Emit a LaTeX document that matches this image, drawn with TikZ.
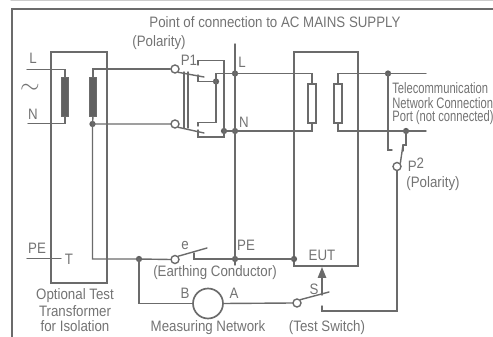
\documentclass[tikz,border=0pt]{standalone}
\usepackage{amsmath, amssymb}
\usepackage{fontspec}
\setmainfont[FakeStretch=0.88]{Liberation Sans}
\newfontfamily\portfont[FakeStretch=0.74]{Liberation Sans}
\usepackage{tikz}
\usetikzlibrary{arrows.meta}

\begin{document}
\begin{tikzpicture}
			[x=0.02cm,y=-0.02cm,line cap=round,
			%Styles
			wire/.style={draw=linecolor,line width=.8pt},
			frame line/.style={draw=linecolor,line width=.85pt},
			dot/.style={circle,inner sep=0pt,minimum size=.125cm,fill=dotcolor},
			terminal/.style={circle,draw=linecolor,line width=.8pt,fill=white,inner sep=0pt,minimum size=.16cm},
			coil/.style={rectangle,fill=dotcolor,draw=linecolor,inner sep=0pt,minimum width=.15cm,minimum height=.78cm},
			load/.style={rectangle,fill=white,draw=linecolor,line width=.8pt,inner sep=0pt,minimum width=.16cm,minimum height=.78cm},
			meter/.style={circle,draw=linecolor,line width=.95pt,fill=white,inner sep=0pt,minimum size=.6cm},
			information text/.style={text=textcolor,font=\fontsize{8.6}{8.6}\selectfont,inner sep=0pt,align=center,anchor=center},
			port text/.style={text=textcolor,font=\portfont\fontsize{8.6}{8.6}\selectfont,inner sep=0pt,align=left,anchor=west}
			]
			
			%Colors
			\colorlet{linecolor}{black!58}
			\colorlet{dotcolor}{black!62}
			\colorlet{textcolor}{black!55}
			
			\useasboundingbox (0,0) rectangle (493,337);
			
			%The frame
			\draw[black!20,line width=.8pt] (11,.5) -- (493,.5);
			\draw[frame line] (12,337) -- (12,9) -- (493,9);
			\draw[frame line] (51,283) rectangle (107,52);
			\draw[frame line] (294,266) rectangle (358,52);
			
			%The nodes
			\node[coil] (coilL) at (65,96.5) {};
			\node[coil] (coilR) at (93,96.5) {};
			\node[load] (loadA) at (312,103.5) {};
			\node[load] (loadB) at (338,103.5) {};
			\node[terminal] (pOneL) at (175,69) {};
			\node[terminal] (pOneN) at (175,124) {};
			\node[terminal] (pTwo) at (397,166.5) {};
			\node[terminal] (termE) at (175,259.5) {};
			\node[terminal] (termS) at (297,303) {};
			\node[meter] (meter) at (208,303.5) {};
			\node[dot] (dotCoil) at (92.5,124) {};
			\node[dot] (dotIn) at (216,81.5) {};
			\node[dot] (dotN) at (224,131) {};
			\node[dot] (dotBusL) at (235,73.5) {};
			\node[dot] (dotBusN) at (235,131) {};
			\node[dot] (dotPE) at (235,259) {};
			\node[dot] (dotEUT) at (294,259) {};
			\node[dot] (dotT) at (139,259) {};
			\node[dot] (dotPortL) at (388,73.5) {};
			\node[dot] (dotPortN) at (406,131) {};
			
			\coordinate (inL) at (27,69.5);
			\coordinate (inN) at (28,123.5);
			\coordinate (inPE) at (27,258.5);
			\coordinate (endPE) at (61,258.5);
			\coordinate (portL) at (426,73.5);
			\coordinate (portN) at (426,131);
			\coordinate (armE) at (207,248);
			\coordinate (armS) at (329,292);
			\coordinate (armP) at (403,145);
			\coordinate (stubS) at (322,306);
			
			%The graphic
			\draw[wire] (inL) -| (coilL.north);
			\draw[wire] (inN) -| (coilL.south);
			\draw[wire] (coilR.north) |- (pOneL.west);
			\draw[wire] (coilR.south) -- (dotCoil.center) -- (pOneN.west);
			\draw[wire] (dotCoil.center) |- (dotT.center) -- (termE.west);
			\draw[wire] (inPE) -- (endPE);
			
			%P1 contacts
			\draw[wire] (pOneL.south east) -- (204,77);
			\draw[wire] (pOneN.south east) -- (204,133);
			\draw[wire] (184,72) -- (184,128);
			\draw[wire] (188,72) -- (188,128);
			\draw[wire] (198,65) -- (198,60.5) -| (dotN.center);
			\draw[wire] (198,75) -- (198,81.5) -- (dotIn.center);
			\draw[wire] (198,126) -- (198,122.5) -| (dotIn.center);
			\draw[wire] (198,130) -- (198,137) -| (dotN.center);
			\draw[wire] (dotIn.center) |- (dotBusL.center);
			\draw[wire] (dotBusL.center) -| (loadA.north);
			\draw[wire] (dotN.center) -- (dotBusN.center) -| (loadA.south);
			\draw[wire] (235,44) -- (dotBusL.center) -- (dotBusN.center) -- (dotPE.center) -- (235,265);
			
			%EUT side
			\draw[wire] (loadB.north) |- (portL);
			\draw[wire] (loadB.south) |- (portN);
			\draw[wire] (dotPortL.center) -- (388,150) -- (392,150);
			\draw[wire] (dotPortN.center) -- (406,145) -- (armP);
			\draw[wire] (armP) -- (403,151);
			\draw[wire] (pTwo.north east) -- (armP);
			\draw[wire] (pTwo.south) |- (322,311) -- (stubS);
			
			%Earthing and measuring
			\draw[wire] (termE.north east) -- (armE);
			\draw[wire] (194,253) -- (194,259) -- (dotPE.center) -- (dotEUT.center);
			\draw[wire] (dotT.center) |- (meter.west);
			\draw[wire] (meter.east) -- (termS.west);
			\draw[wire] (termS.north east) -- (armS);
			\draw[wire,-{Triangle[length=.22cm,width=.17cm]},draw=linecolor,fill=dotcolor] (322,295) -- (322,267);
			
			%The labels
			\node[information text] (title) at (275,22) {Point of connection to AC MAINS SUPPLY};
			\node[information text] (polOne) at (159,43) {(Polarity)};
			\node[information text] (labPOne) at (189,60) {P1};
			\node[information text] (labL) at (33,58) {L};
			\node[information text] (labN) at (33,114) {N};
			\node[text=textcolor,inner sep=0pt,font=\fontsize{14}{14}\selectfont] (labAC) at (30,89) {$\sim$};
			\node[information text] (labBusL) at (242,62) {L};
			\node[information text] (labBusN) at (244,122) {N};
			\node[port text] (labPortA) at (392,88) {Telecommunication};
			\node[port text] (labPortB) at (392,103) {Network Connection};
			\node[port text] (labPortC) at (392,118) {Port (not connected)};
			\node[information text] (labPTwo) at (416,165) {P\raisebox{1.5pt}{2}};
			\node[information text] (polTwo) at (433,184) {(Polarity)};
			\node[information text] (labPE) at (37,248) {PE};
			\node[information text] (labT) at (69,259) {T};
			\node[information text] (labE) at (185,246) {e};
			\node[information text] (labBusPE) at (246,245) {PE};
			\node[information text] (labEarth) at (215,273) {(Earthing Conductor)};
			\node[information text] (labB) at (185,293) {B};
			\node[information text] (labA) at (234,293) {A};
			\node[information text] (labEUT) at (322,255) {EUT};
			\node[information text] (labS) at (314,289) {S};
			\node[information text] (labTest) at (327,328) {(Test Switch)};
			\node[information text] (labMeas) at (208,328) {Measuring Network};
			\node[information text] (labTrA) at (75,296) {Optional Test};
			\node[information text] (labTrB) at (75,311) {Transformer};
			\node[information text] (labTrC) at (75,326) {for Isolation};
		\end{tikzpicture}
\end{document}
